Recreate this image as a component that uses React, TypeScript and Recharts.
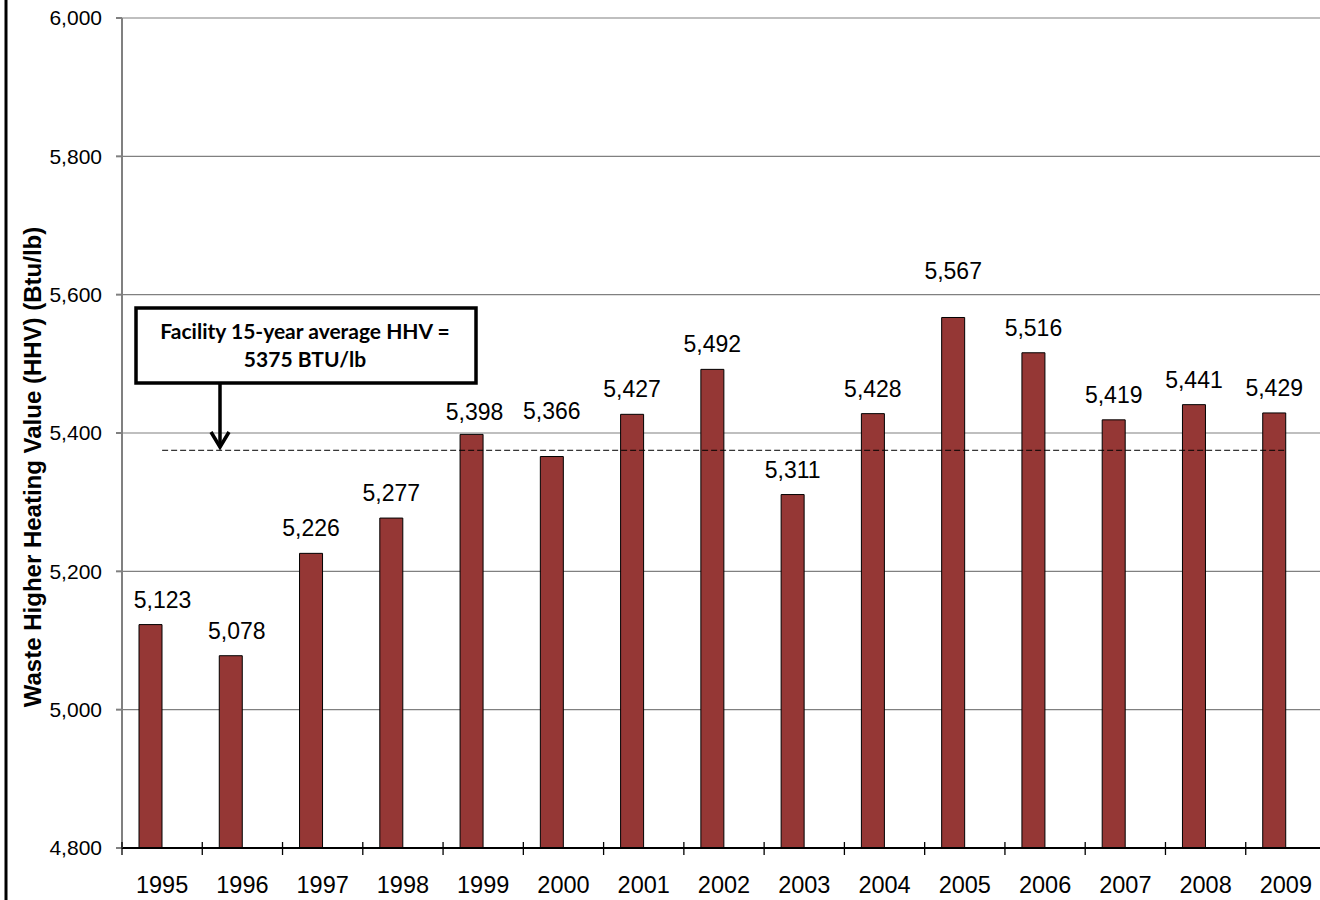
import React from 'react';
import { ComposedChart, Bar, Line, XAxis, YAxis, CartesianGrid, LabelList } from 'recharts';

const years = ['1995', '1996', '1997', '1998', '1999', '2000', '2001', '2002', '2003', '2004', '2005', '2006', '2007', '2008', '2009'];
const hhv = [5123, 5078, 5226, 5277, 5398, 5366, 5427, 5492, 5311, 5428, 5567, 5516, 5419, 5441, 5429];
const facilityAverage = 5375;
const yTicks = [4800, 5000, 5200, 5400, 5600, 5800, 6000];

const data = years.map((year, i) => ({ year, hhv: hhv[i], avg: facilityAverage }));

const FONT = '"Liberation Sans", Arial, sans-serif';
const NOTE_FONT = 'Lato, "Open Sans", sans-serif';

// a few labels were dragged off the gridlines / axis in the original
const labelNudge: Record<string, [number, number]> = {
  '1995': [12, 0],
  '1996': [6, 0],
  '1999': [3, 3],
  '2000': [0, -21],
  '2005': [0, -21],
};

// category label plus Excel-style tick mark on the category boundary
const YearTick = (props: any) => {
  const { x, y, payload } = props;
  const half = payload && payload.offset ? payload.offset : 40.15;
  return (
    <g>
      <line x1={x - half} y1={y - 6} x2={x - half} y2={y + 7} stroke="#000" strokeWidth={1.3} />
      <text x={x} y={y + 45} textAnchor="middle" fontSize={23.5} fontFamily={FONT} fill="#000">
        {payload.value}
      </text>
    </g>
  );
};

const formatThousands = (v: number) => v.toLocaleString('en-US');

const ValueLabel = (props: any) => {
  const { x, y, width, value, index } = props;
  const [dx, dy] = labelNudge[years[index]] || [0, 0];
  return (
    <text x={x + width / 2 + dx} y={y - 17 + dy} textAnchor="middle" fontSize={23} fontFamily={FONT} fill="#000">
      {formatThousands(value)}
    </text>
  );
};

const App = () => {
  return (
    <div style={{ position: 'fixed', left: 0, top: 0, width: 1320, height: 900, overflow: 'hidden', background: '#fff' }}>
      <ComposedChart
        width={1330}
        height={900}
        data={data}
        barGap={0}
        margin={{ top: 18, right: 4, left: 0, bottom: 0 }}
      >
        <CartesianGrid vertical={false} stroke="#808080" strokeWidth={1.2} />
        <XAxis
          dataKey="year"
          height={52}
          stroke="#000"
          strokeWidth={2}
          tickLine={false}
          tickSize={0}
          tickMargin={0}
          interval={0}
          tick={<YearTick />}
        />
        <YAxis
          width={122}
          domain={[4800, 6000]}
          ticks={yTicks}
          allowDataOverflow
          stroke="#808080"
          strokeWidth={2}
          tickSize={6}
          tickMargin={14}
          tickFormatter={formatThousands}
          tick={{ fontSize: 21, fontFamily: FONT, fill: '#000' }}
        />
        <Bar dataKey="hhv" fill="#953735" stroke="#000" strokeWidth={1} barSize={23} isAnimationActive={false}>
          <LabelList dataKey="hhv" content={<ValueLabel />} />
        </Bar>
        {/* empty second series: keeps the bars left of the category centre like the original */}
        <Bar dataKey="unused" fill="none" barSize={23} isAnimationActive={false} />
        <Line
          dataKey="avg"
          stroke="#000"
          strokeWidth={1}
          strokeDasharray="6 3"
          dot={false}
          activeDot={false}
          isAnimationActive={false}
        />
      </ComposedChart>

      {/* overlay: frame edge, axis title and the average callout */}
      <svg width={1320} height={900} style={{ position: 'absolute', left: 0, top: 0, pointerEvents: 'none' }}>
        <line x1={6} y1={0} x2={6} y2={900} stroke="#000" strokeWidth={3} />
        <text
          transform="translate(41, 467) rotate(-90)"
          textAnchor="middle"
          fontSize={24}
          fontWeight="bold"
          fontFamily={FONT}
          fill="#000"
        >
          Waste Higher Heating Value (HHV) (Btu/lb)
        </text>
        <rect x={136} y={308} width={340} height={75} fill="#fff" stroke="#000" strokeWidth={3.5} />
        <text x={305} y={339} textAnchor="middle" fontSize={21} fontWeight="bold" fontFamily={NOTE_FONT} fill="#000">
          Facility 15-year average HHV =
        </text>
        <text x={305} y={367} textAnchor="middle" fontSize={21} fontWeight="bold" fontFamily={NOTE_FONT} fill="#000">
          5375 BTU/lb
        </text>
        <line x1={220} y1={384} x2={220} y2={446} stroke="#000" strokeWidth={3.5} />
        <polyline points="211,432 220,447 229,432" fill="none" stroke="#000" strokeWidth={3.5} />
      </svg>
    </div>
  );
};

export default App;
